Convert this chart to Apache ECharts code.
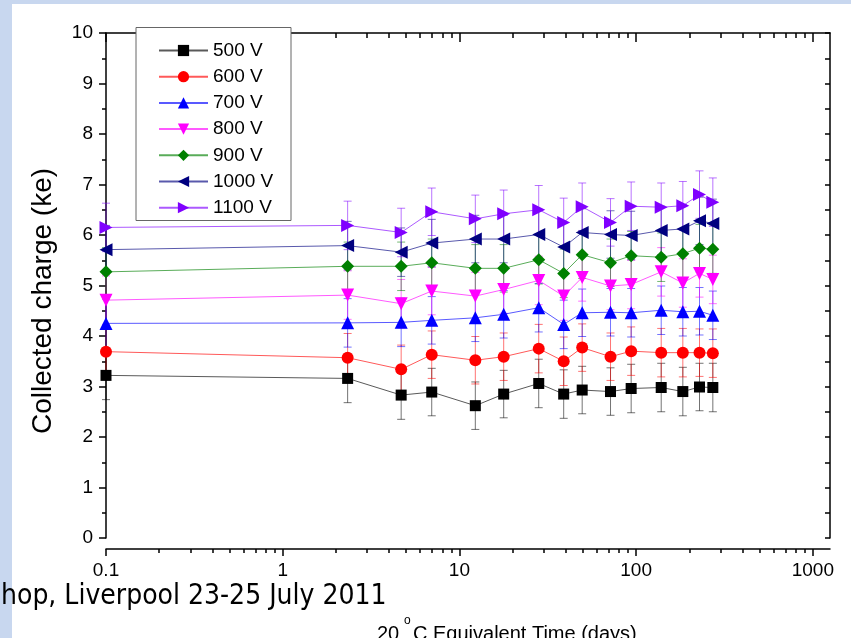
<!DOCTYPE html>
<html><head><meta charset="utf-8">
<script src="https://cdn.jsdelivr.net/npm/echarts@6/dist/echarts.min.js"></script>
<style>html,body{margin:0;padding:0;background:#fff}#c{width:851px;height:638px}</style>
</head><body><div id="c"></div>
<script>
// ---- data ----
const days = [0.1, 2.33, 4.68, 6.97, 12.3, 17.8, 28.1, 38.9, 49.5, 71.6, 93.7, 138.6, 183.7, 228.3, 271.6];
const v500  = [3.22, 3.16, 2.83, 2.89, 2.62, 2.85, 3.06, 2.85, 2.93, 2.90, 2.96, 2.98, 2.90, 2.99, 2.98];
const v600  = [3.69, 3.57, 3.34, 3.63, 3.52, 3.59, 3.75, 3.50, 3.77, 3.59, 3.70, 3.67, 3.67, 3.67, 3.66];
const v700  = [4.25, 4.26, 4.27, 4.31, 4.36, 4.43, 4.56, 4.23, 4.46, 4.47, 4.46, 4.51, 4.48, 4.49, 4.41];
const v800  = [4.71, 4.81, 4.64, 4.89, 4.79, 4.92, 5.10, 4.79, 5.16, 4.99, 5.02, 5.27, 5.05, 5.24, 5.12];
const v900  = [5.27, 5.38, 5.38, 5.45, 5.34, 5.34, 5.51, 5.24, 5.61, 5.45, 5.59, 5.56, 5.63, 5.74, 5.72];
const v1000 = [5.71, 5.79, 5.66, 5.84, 5.92, 5.92, 6.01, 5.76, 6.05, 6.01, 5.99, 6.09, 6.12, 6.28, 6.23];
const v1100 = [6.15, 6.19, 6.05, 6.46, 6.32, 6.42, 6.50, 6.25, 6.56, 6.25, 6.57, 6.55, 6.58, 6.80, 6.65];
const errBar = [0.48, 0.48, 0.48, 0.47, 0.47, 0.47, 0.48, 0.48, 0.47, 0.47, 0.48, 0.48, 0.48, 0.47, 0.48];
const seriesNames = ['500 V', '600 V', '700 V', '800 V', '900 V', '1000 V', '1100 V'];
const xMajorTicks = [0.1, 1, 10, 100, 1000];
const xMinorTicks = [0.2,0.3,0.4,0.5,0.6,0.7,0.8,0.9, 2,3,4,5,6,7,8,9, 20,30,40,50,60,70,80,90, 200,300,400,500,600,700,800,900];
const yTitle = 'Collected charge (ke)';
const footerText = 'hop, Liverpool 23-25 July 2011';

// ---- styles ----
const allValues = [v500, v600, v700, v800, v900, v1000, v1100];
const colors = ['#000000', '#ff0000', '#0000ff', '#ff00ff', '#008000', '#000080', '#8000ff'];
const symbols = ['rect', 'circle', 'triangle', 'triangle', 'diamond', 'triangle', 'triangle'];
const rotates = [0, 0, 0, 180, 0, 90, -90];
const sizes = [11, 12, 13, 13, 13, 13, 13];
const FONT = "'Liberation Sans', Arial, sans-serif";
const AX = {color: '#000', width: 1.5};

const chart = echarts.init(document.getElementById('c'), null, {renderer: 'canvas'});

function errRender(color) {
  return function (params, api) {
    const x = api.value(0), y = api.value(1), e = api.value(2);
    const t = api.coord([x, y + e]), b = api.coord([x, y - e]);
    const hw = 4;
    const st = {stroke: color, lineWidth: 1, opacity: 0.55};
    return {type: 'group', children: [
      {type: 'line', shape: {x1: t[0], y1: t[1], x2: b[0], y2: b[1]}, style: st},
      {type: 'line', shape: {x1: t[0] - hw, y1: t[1], x2: t[0] + hw, y2: t[1]}, style: st},
      {type: 'line', shape: {x1: b[0] - hw, y1: b[1], x2: b[0] + hw, y2: b[1]}, style: st}
    ]};
  };
}

const series = [];
allValues.forEach((vals, k) => {
  series.push({
    type: 'custom', name: seriesNames[k] + ' err', xAxisIndex: 0, yAxisIndex: 0,
    renderItem: errRender(colors[k]), z: 2,
    encode: {x: 0, y: 1},
    data: days.map((d, i) => [d, vals[i], errBar[i]])
  });
});
allValues.forEach((vals, k) => {
  series.push({
    type: 'line', name: seriesNames[k], xAxisIndex: 0, yAxisIndex: 0, z: 3,
    symbol: symbols[k], symbolRotate: rotates[k], symbolSize: sizes[k], showSymbol: true,
    itemStyle: {color: colors[k]},
    lineStyle: {color: colors[k], width: 1, opacity: 0.65},
    data: days.map((d, i) => [d, vals[i]])
  });
});

const xBase = {type: 'log', logBase: 10, min: 0.1, max: 1250, splitLine: {show: false}, minorSplitLine: {show: false}};
const option = {
  animation: false,
  backgroundColor: '#ffffff',
  grid: {left: 106, right: 21, top: 33, bottom: 100, containLabel: false},
  xAxis: [
    Object.assign({}, xBase, {position: 'bottom', offset: 11,
      axisLine: {show: true, onZero: false, lineStyle: AX},
      axisTick: {show: true, customValues: xMajorTicks, length: 7, lineStyle: AX},
      axisLabel: {show: true, customValues: xMajorTicks, fontSize: 19, color: '#000', fontFamily: FONT, margin: 12,
        formatter: v => String(v)}}),
    Object.assign({}, xBase, {position: 'bottom', offset: 11,
      axisLine: {show: false, onZero: false},
      axisTick: {show: true, customValues: xMinorTicks, length: 4, lineStyle: AX},
      axisLabel: {show: false}}),
    Object.assign({}, xBase, {position: 'top',
      axisLine: {show: true, onZero: false, lineStyle: AX},
      axisTick: {show: true, inside: true, customValues: xMajorTicks, length: 9, lineStyle: AX},
      axisLabel: {show: false}}),
    Object.assign({}, xBase, {position: 'top',
      axisLine: {show: false, onZero: false},
      axisTick: {show: true, inside: true, customValues: xMinorTicks, length: 5, lineStyle: AX},
      axisLabel: {show: false}})
  ],
  yAxis: [
    {type: 'value', position: 'left', min: 0, max: 10, interval: 1,
      axisLine: {show: true, onZero: false, lineStyle: AX},
      axisTick: {show: true, length: 7, lineStyle: AX},
      minorTick: {show: true, splitNumber: 2, length: 4, lineStyle: AX},
      axisLabel: {show: true, fontSize: 19, color: '#000', fontFamily: FONT, margin: 13},
      splitLine: {show: false}, minorSplitLine: {show: false}},
    {type: 'value', position: 'right', min: 0, max: 10, interval: 1,
      axisLine: {show: true, onZero: false, lineStyle: AX},
      axisTick: {show: true, inside: true, length: 5, lineStyle: AX},
      minorTick: {show: true, splitNumber: 2, length: 5, lineStyle: AX},
      axisLabel: {show: false},
      splitLine: {show: false}, minorSplitLine: {show: false}}
  ],
  legend: {
    data: seriesNames, orient: 'vertical', left: 158, top: 41, padding: 0,
    itemWidth: 49, itemHeight: 14, itemGap: 7.2, z: 60,
    textStyle: {fontSize: 19, lineHeight: 19, color: '#000', fontFamily: FONT},
    selectedMode: false
  },
  graphic: [
    {type: 'rect', z: 0, shape: {x: 0, y: 0, width: 851, height: 4}, style: {fill: '#c8d7ef'}},
    {type: 'rect', z: 0, shape: {x: 0, y: 0, width: 12, height: 638}, style: {fill: '#c8d7ef'}},
    {type: 'rect', z: 50, shape: {x: 136, y: 27.5, width: 155, height: 193}, style: {fill: '#fff', stroke: '#666', lineWidth: 1}},
    {type: 'text', z: 10, x: 43.5, y: 301, rotation: Math.PI / 2,
      style: {text: yTitle, font: "28px 'Liberation Sans', Arial, sans-serif", fill: '#000', textAlign: 'center', textVerticalAlign: 'middle'}},
    {type: 'text', z: 10, x: 1, y: 597,
      style: {text: footerText, font: "28px 'Liberation Sans Narrow', 'DejaVu Sans Condensed', sans-serif", fill: '#000', textAlign: 'left', textVerticalAlign: 'middle'}},
    {type: 'text', z: 10, x: 377, y: 634,
      style: {text: '20 ', font: "20px 'Liberation Sans', Arial, sans-serif", fill: '#000', textAlign: 'left', textVerticalAlign: 'middle'}},
    {type: 'text', z: 10, x: 404, y: 621,
      style: {text: 'o', font: "12px 'Liberation Sans', Arial, sans-serif", fill: '#000', textAlign: 'left', textVerticalAlign: 'middle'}},
    {type: 'text', z: 10, x: 413, y: 634,
      style: {text: 'C Equivalent Time (days)', font: "20px 'Liberation Sans', Arial, sans-serif", fill: '#000', textAlign: 'left', textVerticalAlign: 'middle'}}
  ],
  series: series
};
chart.setOption(option);
</script>
</body></html>
